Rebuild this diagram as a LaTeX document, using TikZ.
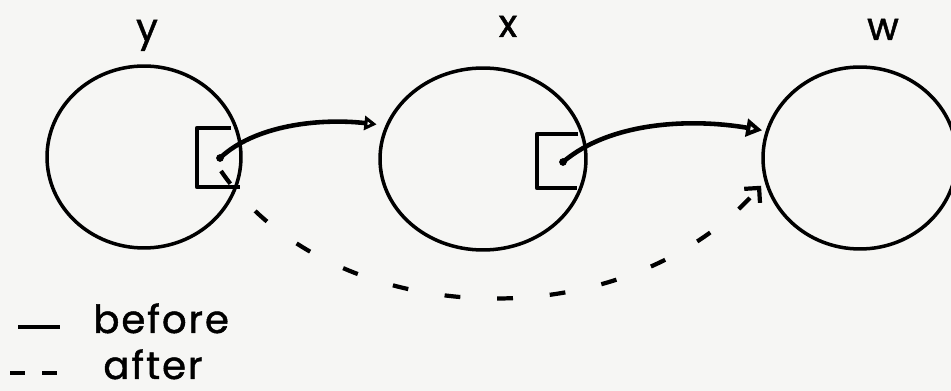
\documentclass[tikz,border=0pt]{standalone}
\usepackage{fontspec}
\setmainfont{Poppins}
\newfontfamily\handfont{Poppins}[FakeBold=1.2, LetterSpace=5]
\usetikzlibrary{arrows.meta,shapes.geometric}
\definecolor{paper}{RGB}{246,246,244}

\begin{document}
\begin{tikzpicture}[x=0.02cm, y=-0.02cm,
    set/.style={draw, ellipse, line width=2pt, minimum width=3.88cm, minimum height=3.64cm},
    slot/.style={line width=2.4pt, line join=round},
    before/.style={line width=2.6pt, -{Triangle[open, length=7pt, width=8pt]}},
    after/.style={line width=2.4pt, dash pattern=on 9pt off 21pt, -{Straight Barb[length=6pt, width=12pt]}},
    tag/.style={font=\handfont\fontsize{22}{22}\selectfont, inner sep=0pt}]
  \clip (0,0) rectangle (951,391);
  \fill[paper] (0,0) rectangle (951,391);
  \node[set] (ycirc) at (144,157) {};
  \node[set, minimum width=4.12cm] (xcirc) at (483,159) {};
  \node[set] (wcirc) at (860,158) {};
  \node[tag, anchor=base] (ylab) at (147,41) {y};
  \node[tag, anchor=base] (xlab) at (508,37) {x};
  \node[tag, anchor=base] (wlab) at (883,40) {w};
  \draw[slot] (231,128) -- (197,128) -- (197,187) -- (240,187);
  \draw[slot] (578,134) -- (537,134) -- (537,188) -- (577,188);
  \coordinate (ydot) at (220,158);
  \coordinate (xdot) at (563,162);
  \coordinate (ystart) at (221,171);
  \fill (ydot) circle (2.2pt);
  \fill (xdot) circle (2.2pt);
  \draw[before, shorten >=5pt] (ydot) .. controls (255,125) and (320,118) .. (xcirc.161);
  \draw[before, -{Triangle[open, length=9pt, width=10pt]}, shorten >=2pt] (xdot) .. controls (610,122) and (690,118) .. (wcirc.164);
  \draw[after, shorten >=3pt] (ystart) .. controls (330,330) and (620,345) .. (wcirc.194);
  \node[tag, anchor=base west] (beforetxt) at (93,333) {before};
  \node[tag, anchor=base west] (aftertxt) at (103,379) {after};
  \draw[line width=2.6pt] (18,327) -- (60,327);
  \draw[line width=2.6pt] (10,373) -- (25,373) (42,373) -- (57,373);
\end{tikzpicture}
\end{document}
